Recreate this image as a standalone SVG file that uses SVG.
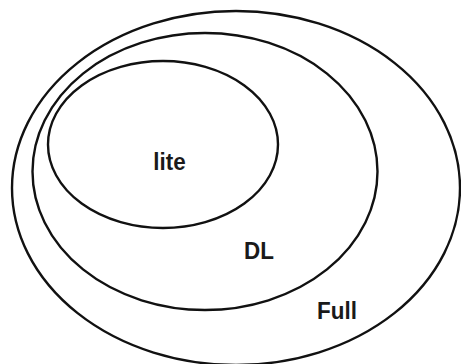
<svg xmlns="http://www.w3.org/2000/svg" width="461" height="364" viewBox="0 0 461 364">
<style>
.set{fill:none;stroke:#111;stroke-width:2.4}
.lbl{font-family:"Liberation Sans",Arial,sans-serif;font-size:22px;font-weight:bold;fill:#1a1a1a;text-anchor:middle}
</style>
<rect width="461" height="364" fill="#fff"/>
<g id="full">
<ellipse class="set" cx="236" cy="188" rx="224" ry="177"/>
<text class="lbl" transform="translate(337 319) scale(1.02 1.12)">Full</text>
</g>
<g id="dl">
<ellipse class="set" cx="205" cy="171.5" rx="172.5" ry="138.5"/>
<text class="lbl" transform="translate(259 259) scale(1.02 1.12)">DL</text>
</g>
<g id="lite">
<ellipse class="set" cx="163" cy="144.5" rx="115" ry="83.5"/>
<text class="lbl" transform="translate(169.5 170) scale(1.02 1.12)">lite</text>
</g>
<g id="connectors"/>
</svg>
